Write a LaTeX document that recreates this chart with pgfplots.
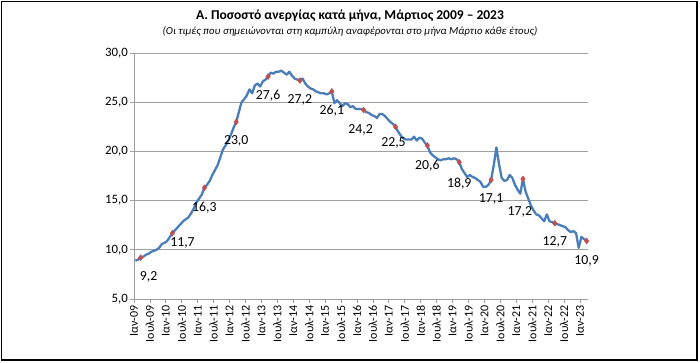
\documentclass[border=0pt]{standalone}
\usepackage{fontspec}
\setmainfont{Carlito}
\usepackage{pgfplots}
\pgfplotsset{compat=1.18}
\usepackage{pgfplotstable}

\definecolor{lineblue}{RGB}{74,126,187}
\definecolor{markred}{RGB}{192,80,77}
\definecolor{gridgray}{RGB}{160,160,160}

\pgfplotstableread{
m v
0 8.9
1 9.0
2 9.2
3 9.3
4 9.5
5 9.6
6 9.8
7 9.9
8 10.0
9 10.2
10 10.6
11 10.7
12 10.9
13 11.3
14 11.7
15 12.0
16 12.3
17 12.6
18 12.9
19 13.1
20 13.3
21 13.7
22 14.2
23 14.8
24 15.2
25 15.6
26 16.3
27 16.6
28 17.0
29 17.6
30 18.1
31 18.6
32 19.4
33 20.2
34 20.6
35 21.1
36 21.7
37 22.4
38 23.0
39 24.0
40 25.0
41 25.3
42 25.7
43 26.3
44 25.9
45 26.7
46 26.9
47 26.6
48 27.1
49 27.3
50 27.6
51 28.0
52 27.9
53 28.1
54 28.1
55 28.2
56 28.0
57 27.8
58 28.1
59 27.7
60 27.4
61 27.3
62 27.2
63 27.4
64 26.9
65 26.6
66 26.4
67 26.3
68 26.1
69 26.0
70 25.9
71 25.9
72 25.8
73 25.9
74 26.1
75 24.9
76 25.2
77 24.9
78 24.6
79 24.9
80 24.8
81 24.5
82 24.6
83 24.3
84 24.3
85 24.3
86 24.2
87 24.0
88 23.9
89 23.7
90 23.6
91 23.4
92 23.8
93 23.8
94 23.6
95 23.3
96 23.0
97 22.8
98 22.5
99 22.0
100 21.6
101 21.3
102 21.2
103 21.2
104 21.2
105 21.5
106 21.1
107 21.4
108 21.3
109 20.9
110 20.6
111 19.9
112 19.6
113 19.4
114 19.2
115 19.1
116 19.2
117 19.2
118 19.3
119 19.2
120 19.3
121 19.2
122 18.9
123 18.2
124 17.8
125 17.4
126 17.6
127 17.4
128 17.3
129 17.1
130 16.9
131 16.4
132 16.4
133 16.6
134 17.1
135 18.6
136 20.4
137 18.7
138 17.3
139 17.0
140 17.1
141 17.6
142 17.3
143 16.6
144 16.1
145 15.7
146 17.2
147 15.9
148 15.2
149 14.5
150 14.0
151 13.6
152 13.5
153 13.2
154 12.9
155 13.6
156 12.9
157 12.8
158 12.7
159 12.6
160 12.5
161 12.4
162 12.3
163 12.0
164 11.8
165 11.9
166 11.7
167 10.2
168 11.3
169 11.1
170 10.9
}\monthly

\pgfplotstableread{
m v lbl dx dy
2 9.2 9,2 8 -19
14 11.7 11,7 10 -10
26 16.3 16,3 0 -20
38 23.0 23,0 0 -19
50 27.6 27,6 0 -19
62 27.2 27,2 0 -19
74 26.1 26,1 0 -19
86 24.2 24,2 -3 -20
98 22.5 22,5 -2 -16
110 20.6 20,6 0 -20
122 18.9 18,9 0 -21
134 17.1 17,1 0 -19
146 17.2 17,2 -3 -33
158 12.7 12,7 0 -19
170 10.9 10,9 0 -20
}\march

\begin{document}
\begin{tikzpicture}[x=1pt,y=1pt]
\useasboundingbox (0,0) rectangle (700,362);
\draw[line width=1.2pt] (1.5,2) rectangle (697,360.5);
\node[font=\bfseries\fontsize{13.5}{15}\selectfont] at (350,346.5) {Α. Ποσοστό ανεργίας κατά μήνα, Μάρτιος 2009 – 2023};
\node[font=\itshape\fontsize{10.8}{13}\selectfont] at (350,330.5) {(Οι τιμές που σημειώνονται στη καμπύλη αναφέρονται στο μήνα Μάρτιο κάθε έτους)};
\begin{axis}[
  at={(134pt,63pt)}, anchor=south west,
  scale only axis, width=454pt, height=246pt,
  xmin=-0.5, xmax=170.5, ymin=5, ymax=30,
  clip=false,
  axis x line*=bottom, axis y line*=left,
  axis line style={draw=gridgray, line width=0.8pt, -},
  ytick={5,10,...,30},
  xtick={-0.5,5.5,...,167.5},
  xticklabels={Ιαν-09,Ιουλ-09,Ιαν-10,Ιουλ-10,Ιαν-11,Ιουλ-11,Ιαν-12,Ιουλ-12,Ιαν-13,Ιουλ-13,Ιαν-14,Ιουλ-14,Ιαν-15,Ιουλ-15,Ιαν-16,Ιουλ-16,Ιαν-17,Ιουλ-17,Ιαν-18,Ιουλ-18,Ιαν-19,Ιουλ-19,Ιαν-20,Ιουλ-20,Ιαν-21,Ιουλ-21,Ιαν-22,Ιουλ-22,Ιαν-23},
  tick align=outside,
  major tick length=4pt,
  tick style={draw=gridgray, line width=0.8pt},
  xticklabel style={rotate=90, anchor=east, font=\fontsize{12}{13}\selectfont, inner sep=2pt},
  yticklabel style={font=\fontsize{12.8}{13}\selectfont, inner sep=2pt},
  /pgf/number format/assume math mode=true,
  y tick label style={/pgf/number format/.cd, fixed, fixed zerofill, precision=1, use comma},
  ymajorgrids,
  grid style={draw=gridgray, line width=0.8pt},
]
\addplot[color=lineblue, line width=2.3pt, no markers, line join=round] table[x=m,y=v]{\monthly};
\addplot[only marks, mark=diamond*, mark size=3pt, color=markred,
  point meta=explicit symbolic,
  nodes near coords,
  visualization depends on={\thisrow{dx}\as\dx},
  visualization depends on={\thisrow{dy}\as\dy},
  every node near coord/.append style={anchor=center, xshift=\dx, yshift=\dy, text=black, font=\fontsize{13.8}{14}\selectfont},
] table[x=m,y=v,meta=lbl]{\march};
\end{axis}
\end{tikzpicture}
\end{document}
